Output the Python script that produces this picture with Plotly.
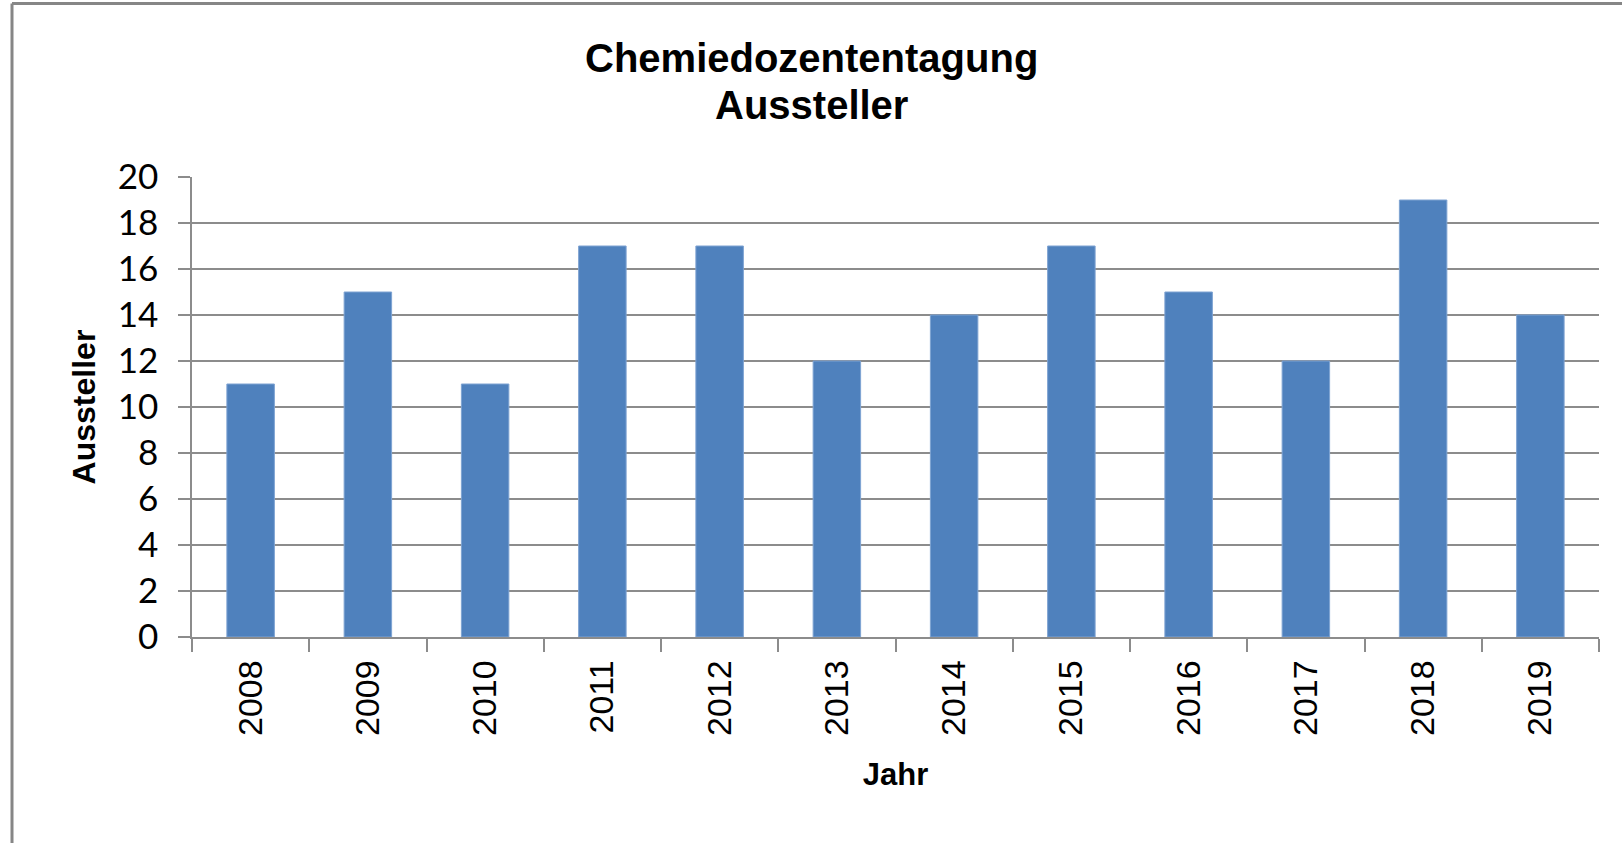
import plotly.graph_objects as go

years = ["2008", "2009", "2010", "2011", "2012", "2013", "2014", "2015", "2016", "2017", "2018", "2019"]
aussteller = [11, 15, 11, 17, 17, 12, 14, 17, 15, 12, 19, 14]
y_ticks = list(range(0, 21, 2))
title_lines = ["Chemiedozententagung", "Aussteller"]

W, H = 1622, 843
L, R, T, B = 192, 1599, 177, 637


def px_x(px):
    return (px - L) / (R - L)


def px_y(py):
    return (B - py) / (B - T)


fig = go.Figure(go.Bar(
    x=years, y=aussteller,
    marker=dict(color="#4F81BD", line=dict(color="#7EA3D2", width=1)),
    width=0.405,
))

grid = "#8C8C8C"
title_font = dict(family="Liberation Sans, Arial", size=40, color="black", weight="bold")
annotations = [
    dict(text=title_lines[0], xref="paper", yref="paper", x=px_x(811), y=px_y(58),
         xanchor="center", yanchor="middle", showarrow=False, font=title_font),
    dict(text=title_lines[1], xref="paper", yref="paper", x=px_x(811), y=px_y(105),
         xanchor="center", yanchor="middle", showarrow=False, font=title_font),
]

fig.update_layout(
    width=W, height=H,
    margin=dict(l=L, r=W - R, t=T, b=H - B, autoexpand=False),
    paper_bgcolor="white", plot_bgcolor="white",
    showlegend=False,
    annotations=annotations,
    xaxis=dict(
        type="category",
        tickangle=-90,
        tickfont=dict(family="Liberation Sans, Arial", size=34, color="black"),
        ticks="outside", tickson="boundaries", ticklen=13, tickwidth=1.5, tickcolor=grid,
        ticklabelstandoff=8,
        showline=True, linecolor=grid, linewidth=1.5,
        showgrid=False,
        title=dict(text="Jahr", standoff=28,
                   font=dict(family="Liberation Sans, Arial", size=31, color="black", weight="bold")),
    ),
    yaxis=dict(
        range=[0, 20], tickvals=y_ticks,
        tickfont=dict(family="Lato, Liberation Sans", size=35, color="black"),
        ticks="outside", ticklen=12, tickwidth=1.5, tickcolor=grid,
        ticklabelstandoff=13,
        showline=True, linecolor=grid, linewidth=1.5,
        showgrid=True, gridcolor=grid, gridwidth=1.5,
        zeroline=False,
        title=dict(text="Aussteller", standoff=12,
                   font=dict(family="Liberation Sans, Arial", size=32, color="black", weight="bold")),
    ),
    shapes=[
        dict(type="line", xref="paper", yref="paper",
             x0=px_x(12), x1=px_x(1700), y0=px_y(3.5), y1=px_y(3.5),
             line=dict(color="#868686", width=3)),
        dict(type="line", xref="paper", yref="paper",
             x0=px_x(12), x1=px_x(12), y0=px_y(3.5), y1=px_y(900),
             line=dict(color="#868686", width=3)),
    ],
)

fig.write_html(
    "out.html",
    config={"displayModeBar": False},
    post_script="document.body.style.margin='0';document.body.style.overflow='hidden';",
)
